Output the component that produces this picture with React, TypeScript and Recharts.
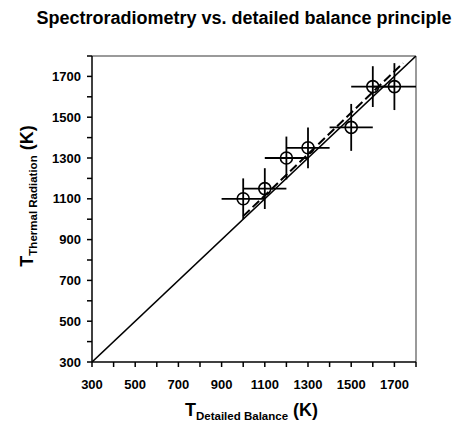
import React from "react";
import {
  ComposedChart,
  Scatter,
  XAxis,
  YAxis,
  ErrorBar,
  ReferenceLine
} from "recharts";

// measured points (detailed balance vs thermal radiation), K
const tDetailed = [1000, 1100, 1200, 1300, 1500, 1600, 1700];
const tThermal = [1100, 1150, 1300, 1350, 1450, 1650, 1650];
const errDetailed = [100, 100, 100, 100, 100, 100, 100];
const errThermal = [100, 100, 105, 100, 115, 100, 115];

// y = x reference and the dashed fit
const identityX = [300, 1800];
const fitX = [1000, 1740];
const fitY = [1015, 1765];

const axisTicks = [300, 400, 500, 600, 700, 800, 900, 1000, 1100, 1200, 1300, 1400, 1500, 1600, 1700, 1800];
const labelledTicks = [300, 500, 700, 900, 1100, 1300, 1500, 1700];

const FONT = "Arial, 'Liberation Sans', sans-serif";

const points = tDetailed.map((x, i) => ({
  x,
  y: tThermal[i],
  ex: errDetailed[i],
  ey: errThermal[i]
}));
const identity = identityX.map(v => ({ x: v, y: v }));
const fit = fitX.map((x, i) => ({ x, y: fitY[i] }));

const fmt = (v: number) => (labelledTicks.includes(v) ? String(v) : "");

const OpenCircle = (props: any) => {
  const { cx, cy } = props;
  if (cx == null || cy == null) return <g />;
  return <circle cx={cx} cy={cy} r={6} fill="none" stroke="#000" strokeWidth={1.6} />;
};

const NoDot = () => <g />;

export default function App() {
  const tickStyle = { fontSize: 13, fontWeight: 700, fill: "#000", fontFamily: FONT };
  return (
    <div style={{ position: "absolute", left: 0, top: 0, width: 460, height: 427, background: "#fff", fontFamily: FONT }}>
      <div style={{ position: "absolute", top: 8, left: 0, width: 488, textAlign: "center", fontSize: 18, fontWeight: 700, whiteSpace: "nowrap" }}>
        Spectroradiometry vs. detailed balance principle
      </div>

      <ComposedChart width={460} height={427} margin={{ top: 56, right: 44, bottom: 0, left: 0 }}>
        <XAxis
          type="number"
          dataKey="x"
          domain={[300, 1800]}
          ticks={axisTicks}
          tickFormatter={fmt}
          interval={0}
          allowDataOverflow
          height={65}
          tickSize={5}
          tickMargin={13}
          stroke="#000"
          strokeWidth={1.5}
          tick={tickStyle}
        />
        <YAxis
          type="number"
          dataKey="y"
          domain={[300, 1800]}
          ticks={axisTicks}
          tickFormatter={fmt}
          interval={0}
          allowDataOverflow
          width={92}
          tickSize={5}
          tickMargin={6}
          stroke="#000"
          strokeWidth={1.5}
          tick={tickStyle}
        />
        <ReferenceLine y={1800} stroke="#9a9a9a" strokeWidth={2} />
        <ReferenceLine x={1800} stroke="#9a9a9a" strokeWidth={2} />

        <Scatter
          data={identity}
          line={{ stroke: "#000", strokeWidth: 1.6 }}
          shape={NoDot}
          legendType="none"
          isAnimationActive={false}
        />
        <Scatter
          data={fit}
          line={{ stroke: "#000", strokeWidth: 2, strokeDasharray: "9 4" }}
          shape={NoDot}
          legendType="none"
          isAnimationActive={false}
        />
        <Scatter data={points} shape={OpenCircle} legendType="none" isAnimationActive={false}>
          <ErrorBar dataKey="ex" direction="x" width={0} stroke="#000" strokeWidth={1.8} isAnimationActive={false} />
          <ErrorBar dataKey="ey" direction="y" width={0} stroke="#000" strokeWidth={1.8} isAnimationActive={false} />
        </Scatter>
      </ComposedChart>

      <div
        style={{
          position: "absolute",
          left: 185,
          top: 400,
          fontSize: 18,
          fontWeight: 700,
          whiteSpace: "nowrap",
          lineHeight: "20px"
        }}
      >
        T<sub style={{ fontSize: 11.5, verticalAlign: "-4px" }}>Detailed Balance</sub> (K)
      </div>
      <div
        style={{
          position: "absolute",
          left: 30,
          top: 196,
          transform: "translate(-50%, -50%) rotate(-90deg)",
          fontSize: 18,
          fontWeight: 700,
          whiteSpace: "nowrap",
          lineHeight: "20px"
        }}
      >
        T<sub style={{ fontSize: 11.5, verticalAlign: "-4px" }}>Thermal Radiation</sub> (K)
      </div>
    </div>
  );
}
